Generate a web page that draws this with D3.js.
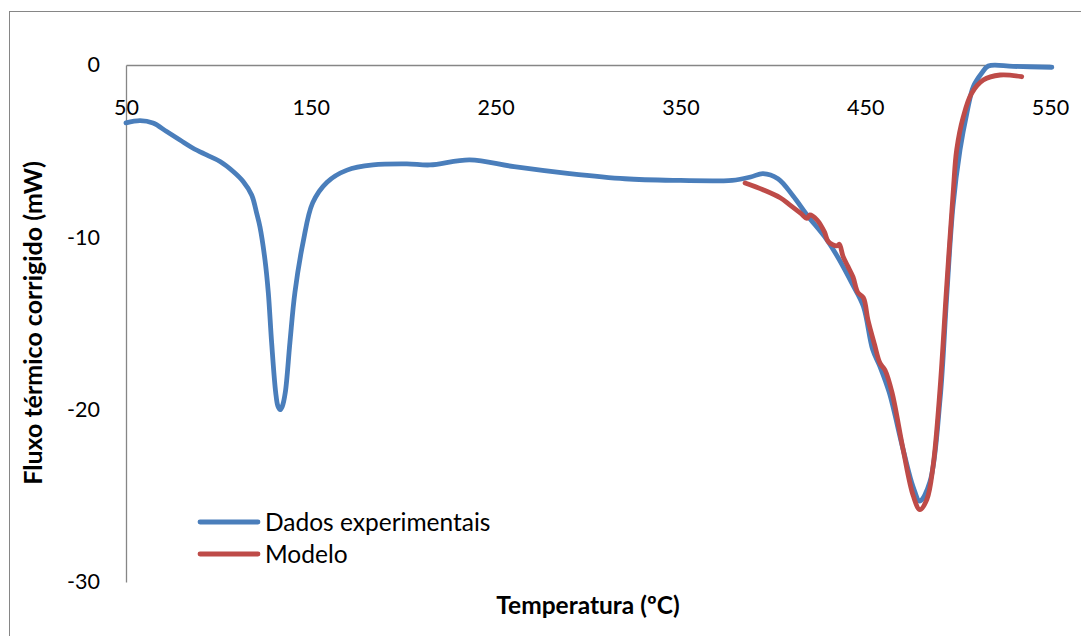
<!DOCTYPE html>
<html>
<head>
<meta charset="utf-8">
<script src="https://cdn.jsdelivr.net/npm/d3@7"></script>
<style>
  html, body { margin: 0; padding: 0; background: #fff; }
  svg { display: block; font-family: Lato, "Open Sans", sans-serif; }
</style>
</head>
<body>
<svg id="chart" width="1081" height="636"></svg>
<script>
// Experimental DSC curve: temperature (ºC) and corrected heat flow (mW)
const expTemp = [50, 57.6, 64.6, 72, 79.2, 86.3, 93.6, 100.9, 108, 113.5, 118, 120.7, 122.5, 125.2, 127, 128.8,
  131, 132.2, 133.4, 134.6, 136.2, 138.7, 141.4, 145.8, 151, 158.8, 169.6, 183.7, 202, 214.5,
  236, 260, 290, 320, 350, 371, 378, 388, 394.7, 402.8, 411, 418.5, 429, 436, 443, 449, 454, 458,
  463, 470.5, 476, 479.6, 485, 490.5, 494, 497.5, 501.3, 505, 508.5, 513, 516.6, 530, 551];
const expFlow = [-3.36, -3.23, -3.37, -3.86, -4.35, -4.83, -5.22, -5.6, -6.18, -6.77, -7.54, -8.6, -9.4, -11.3, -13.2, -16.1,
  -19.0, -19.8, -20.0, -19.8, -19.0, -16.1, -13.2, -10.3, -8.0, -6.8, -6.1, -5.8, -5.74, -5.8,
  -5.5, -5.9, -6.3, -6.6, -6.7, -6.72, -6.7, -6.5, -6.3, -6.6, -7.6, -8.7, -10.1, -11.3, -12.7, -14.0, -16.5, -17.5,
  -19.0, -22.3, -24.5, -25.3, -24.2, -19.4, -13.6, -8.2, -4.93, -2.8, -1.26, -0.48, -0.06, -0.08, -0.13];

// Kinetic model curve
const modTemp = [385, 395, 404, 409, 415, 418.5, 420, 424, 428, 430, 434.7, 436, 438, 440.7, 443.4, 446,
  449, 451.5, 455, 458, 460.7, 464.5, 470.5, 476, 479.6, 483.4, 486.7, 490.5, 494, 497.7, 499.5,
  503.1, 507.6, 513.9, 523, 534.7];
const modFlow = [-6.85, -7.25, -7.7, -8.1, -8.6, -8.9, -8.7, -9.0, -9.7, -10.25, -10.5, -10.4, -11.1, -11.7, -12.3, -13.2,
  -13.5, -14.8, -16.2, -17.3, -17.7, -19.0, -22.3, -25.0, -25.8, -25.2, -23.3, -18.8, -13.0, -7.25, -4.93,
  -3.0, -1.64, -0.87, -0.58, -0.68];

const xTicks = [50, 150, 250, 350, 450, 550];
const yTicks = [0, -10, -20, -30];
const seriesNames = ["Dados experimentais", "Modelo"];
const seriesColors = ["#4a7ebb", "#be4b48"];

const svg = d3.select("#chart");
const axisColor = "#868686";
const fmt = d => String(d);

// Chart area frame
svg.append("rect")
  .attr("x", 9.5).attr("y", 11.5)
  .attr("width", 1100).attr("height", 660)
  .attr("fill", "none").attr("stroke", axisColor).attr("stroke-width", 1);

const x = d3.scaleLinear().domain([50, 550]).range([126, 1050]);
const y = d3.scaleLinear().domain([-30, 0]).range([582, 65]);

// Y axis (value axis) with labels on the left, no tick marks
const yAxis = svg.append("g")
  .attr("transform", `translate(${x(50)},0)`)
  .call(d3.axisLeft(y).tickValues(yTicks).tickSize(0).tickPadding(26).tickFormat(fmt));
yAxis.select(".domain").attr("stroke", axisColor).attr("stroke-width", 1.3);
yAxis.selectAll("text").attr("font-size", 21.5).attr("fill", "#000").attr("font-family", "Lato, sans-serif");

// X axis crossing at y = 0, labels placed just below it
const xAxis = svg.append("g")
  .attr("transform", `translate(0,${y(0)})`)
  .call(d3.axisBottom(x).tickValues(xTicks).tickSize(0).tickPadding(35).tickFormat(fmt));
xAxis.select(".domain").attr("stroke", axisColor).attr("stroke-width", 1.3);
xAxis.selectAll("text").attr("font-size", 21.5).attr("fill", "#000").attr("font-family", "Lato, sans-serif");

const line = d3.line()
  .x(d => x(d[0]))
  .y(d => y(d[1]))
  .curve(d3.curveCatmullRom.alpha(0.5));

const expData = expTemp.map((t, i) => [t, expFlow[i]]);
const modData = modTemp.map((t, i) => [t, modFlow[i]]);

svg.append("path").datum(expData)
  .attr("d", line).attr("fill", "none")
  .attr("stroke", seriesColors[0]).attr("stroke-width", 4.8)
  .attr("stroke-linejoin", "round").attr("stroke-linecap", "round");

svg.append("path").datum(modData)
  .attr("d", line).attr("fill", "none")
  .attr("stroke", seriesColors[1]).attr("stroke-width", 4.8)
  .attr("stroke-linejoin", "round").attr("stroke-linecap", "round");

// Legend
const legend = svg.append("g");
seriesNames.forEach((name, i) => {
  const ly = 522 + i * 32;
  legend.append("line")
    .attr("x1", 200).attr("x2", 258).attr("y1", ly).attr("y2", ly)
    .attr("stroke", seriesColors[i]).attr("stroke-width", 4.8).attr("stroke-linecap", "round");
  legend.append("text")
    .attr("x", 265).attr("y", ly).attr("dy", "0.36em")
    .attr("font-size", 24.5).attr("fill", "#000")
    .text(name);
});

// Axis titles
svg.append("text")
  .attr("x", 588).attr("y", 605).attr("dy", "0.36em")
  .attr("text-anchor", "middle").attr("font-size", 24.5).attr("font-weight", "bold")
  .text("Temperatura (ºC)");

svg.append("text")
  .attr("transform", "translate(33,323) rotate(-90)")
  .attr("dy", "0.36em")
  .attr("text-anchor", "middle").attr("font-size", 25).attr("font-weight", "bold")
  .text("Fluxo térmico corrigido (mW)");
</script>
</body>
</html>
